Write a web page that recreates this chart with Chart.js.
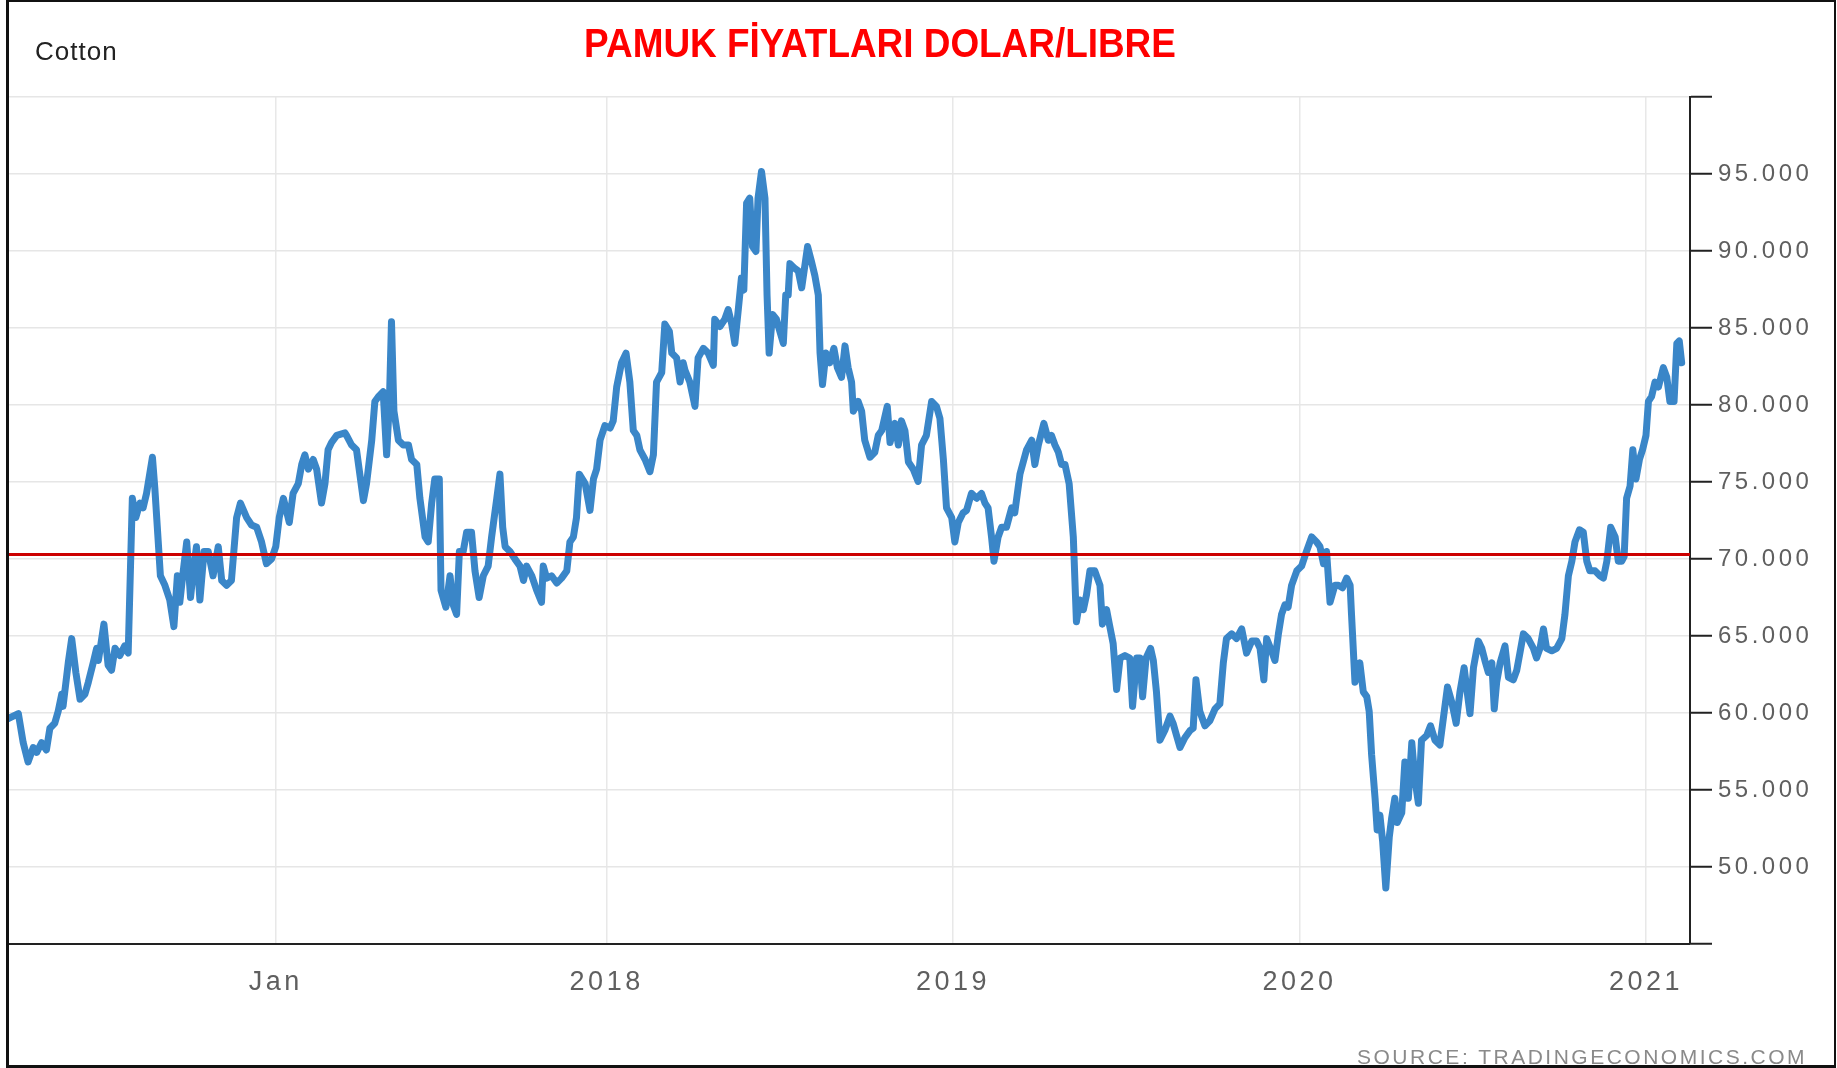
<!DOCTYPE html>
<html>
<head>
<meta charset="utf-8">
<script src="https://cdn.jsdelivr.net/npm/chart.js@4.4.1/dist/chart.umd.min.js"></script>
<style>
  html, body { margin: 0; padding: 0; background: #fff; }
  #wrap { position: relative; width: 1837px; height: 1068px; overflow: hidden; background: #fff; }
  #chart { position: absolute; left: 0; top: 0; }
  .frame { position: absolute; left: 6px; top: 0; width: 1830px; height: 1068px; box-sizing: border-box;
           border: 3px solid #111; border-top-width: 2px; border-right-width: 2px; pointer-events: none; }
  .name { position: absolute; left: 35px; top: 38px; font: 26px "Liberation Sans", Arial, sans-serif;
          color: #222; letter-spacing: 1px; line-height: 26px; white-space: nowrap; }
  .title { position: absolute; left: 880px; top: 23px; font: bold 41px "Liberation Sans", Arial, sans-serif;
           color: #ff0000; line-height: 41px; white-space: nowrap; transform: translateX(-50%) scaleX(0.9); }
  .source { position: absolute; right: 30px; top: 1046px; font: 21px "Liberation Sans", Arial, sans-serif;
            color: #8a8a8a; letter-spacing: 2.5px; line-height: 21px; white-space: nowrap; }
</style>
</head>
<body>
<div id="wrap">
  <canvas id="chart" width="1837" height="1068"></canvas>
  <div class="name">Cotton</div>
  <div class="title">PAMUK FİYATLARI DOLAR/LIBRE</div>
  <div class="source">SOURCE: TRADINGECONOMICS.COM</div>
  <div class="frame"></div>
</div>
<script>
// Cotton futures, US cents per pound, sampled along the series (decimal years).
const years = [
  2016.273, 2016.302, 2016.316, 2016.330, 2016.345, 2016.355, 2016.369, 2016.383, 2016.393, 2016.407,
  2016.417, 2016.427, 2016.431, 2016.446, 2016.456, 2016.468, 2016.480, 2016.494, 2016.504, 2016.518,
  2016.528, 2016.533, 2016.549, 2016.561, 2016.571, 2016.581, 2016.595, 2016.609, 2016.619, 2016.631,
  2016.641, 2016.653, 2016.662, 2016.672, 2016.689, 2016.696, 2016.712, 2016.725, 2016.739, 2016.751,
  2016.761, 2016.768, 2016.778, 2016.788, 2016.799, 2016.807, 2016.816, 2016.826, 2016.838, 2016.850,
  2016.864, 2016.879, 2016.889, 2016.903, 2016.917, 2016.932, 2016.943, 2016.961, 2016.975, 2016.990,
  2017.004, 2017.018, 2017.033, 2017.045, 2017.055, 2017.067, 2017.084, 2017.095, 2017.110, 2017.120,
  2017.129, 2017.139, 2017.153, 2017.163, 2017.177, 2017.187, 2017.196, 2017.206, 2017.221, 2017.245,
  2017.249, 2017.264, 2017.278, 2017.298, 2017.307, 2017.322, 2017.331, 2017.341, 2017.355, 2017.365,
  2017.373, 2017.379, 2017.386, 2017.399, 2017.413, 2017.428, 2017.437, 2017.452, 2017.461, 2017.476,
  2017.485, 2017.495, 2017.504, 2017.517, 2017.522, 2017.536, 2017.548, 2017.557, 2017.567, 2017.575,
  2017.586, 2017.596, 2017.610, 2017.620, 2017.632, 2017.644, 2017.658, 2017.668, 2017.683, 2017.692,
  2017.700, 2017.707, 2017.721, 2017.735, 2017.750, 2017.760, 2017.769, 2017.784, 2017.798, 2017.812,
  2017.817, 2017.827, 2017.841, 2017.856, 2017.870, 2017.885, 2017.894, 2017.904, 2017.913, 2017.921,
  2017.938, 2017.952, 2017.962, 2017.971, 2017.981, 2017.995, 2018.010, 2018.019, 2018.029, 2018.043,
  2018.056, 2018.067, 2018.077, 2018.087, 2018.096, 2018.111, 2018.125, 2018.135, 2018.144, 2018.159,
  2018.168, 2018.181, 2018.188, 2018.202, 2018.212, 2018.221, 2018.226, 2018.240, 2018.255, 2018.264,
  2018.279, 2018.293, 2018.308, 2018.312, 2018.327, 2018.341, 2018.351, 2018.361, 2018.370, 2018.380,
  2018.389, 2018.396, 2018.404, 2018.413, 2018.421, 2018.431, 2018.437, 2018.447, 2018.457, 2018.463,
  2018.469, 2018.479, 2018.490, 2018.498, 2018.510, 2018.517, 2018.524, 2018.529, 2018.543, 2018.553,
  2018.563, 2018.572, 2018.580, 2018.591, 2018.601, 2018.611, 2018.616, 2018.623, 2018.633, 2018.644,
  2018.656, 2018.666, 2018.678, 2018.688, 2018.697, 2018.707, 2018.712, 2018.726, 2018.736, 2018.745,
  2018.760, 2018.774, 2018.784, 2018.794, 2018.810, 2018.818, 2018.832, 2018.842, 2018.851, 2018.861,
  2018.871, 2018.885, 2018.899, 2018.909, 2018.923, 2018.938, 2018.952, 2018.962, 2018.972, 2018.981,
  2018.996, 2019.005, 2019.015, 2019.029, 2019.039, 2019.053, 2019.068, 2019.082, 2019.092, 2019.101,
  2019.111, 2019.118, 2019.130, 2019.140, 2019.154, 2019.169, 2019.178, 2019.193, 2019.212, 2019.227,
  2019.236, 2019.246, 2019.262, 2019.275, 2019.284, 2019.294, 2019.304, 2019.313, 2019.323, 2019.335,
  2019.347, 2019.356, 2019.366, 2019.376, 2019.385, 2019.395, 2019.409, 2019.424, 2019.431, 2019.443,
  2019.451, 2019.462, 2019.472, 2019.482, 2019.496, 2019.510, 2019.518, 2019.530, 2019.539, 2019.547,
  2019.557, 2019.570, 2019.578, 2019.587, 2019.597, 2019.611, 2019.626, 2019.635, 2019.645, 2019.655,
  2019.669, 2019.684, 2019.693, 2019.701, 2019.712, 2019.727, 2019.741, 2019.756, 2019.770, 2019.780,
  2019.789, 2019.804, 2019.818, 2019.833, 2019.847, 2019.862, 2019.876, 2019.886, 2019.897, 2019.905,
  2019.919, 2019.929, 2019.939, 2019.948, 2019.958, 2019.967, 2019.977, 2019.992, 2020.006, 2020.020,
  2020.035, 2020.049, 2020.059, 2020.069, 2020.078, 2020.088, 2020.102, 2020.112, 2020.124, 2020.136,
  2020.146, 2020.150, 2020.160, 2020.174, 2020.184, 2020.194, 2020.201, 2020.208, 2020.218, 2020.224,
  2020.232, 2020.240, 2020.249, 2020.259, 2020.266, 2020.275, 2020.282, 2020.295, 2020.304, 2020.314,
  2020.324, 2020.333, 2020.343, 2020.352, 2020.367, 2020.378, 2020.391, 2020.405, 2020.415, 2020.427,
  2020.439, 2020.452, 2020.463, 2020.475, 2020.482, 2020.492, 2020.502, 2020.516, 2020.526, 2020.535,
  2020.545, 2020.555, 2020.562, 2020.569, 2020.579, 2020.593, 2020.603, 2020.617, 2020.627, 2020.636,
  2020.646, 2020.660, 2020.675, 2020.684, 2020.694, 2020.704, 2020.713, 2020.728, 2020.742, 2020.757,
  2020.766, 2020.776, 2020.786, 2020.795, 2020.808, 2020.819, 2020.829, 2020.838, 2020.853, 2020.867,
  2020.877, 2020.887, 2020.898, 2020.911, 2020.920, 2020.930, 2020.937, 2020.944, 2020.954, 2020.962,
  2020.971, 2020.981, 2020.990, 2021.000, 2021.007, 2021.016, 2021.026, 2021.036, 2021.050, 2021.060,
  2021.069, 2021.081, 2021.089, 2021.096, 2021.103
];

const prices = [
  59.64, 59.96, 58.07, 56.82, 57.76, 57.44, 58.07, 57.60, 59.01, 59.33,
  60.11, 61.21, 60.43, 63.26, 64.83, 62.63, 60.90, 61.21, 62.00, 63.26,
  64.20, 63.41, 65.77, 63.10, 62.78, 64.20, 63.73, 64.36, 63.89, 73.94,
  72.69, 73.63, 73.32, 74.26, 76.61, 74.57, 68.91, 68.29, 67.34, 65.61,
  68.91, 67.19, 69.23, 71.11, 67.50, 69.23, 70.80, 67.34, 70.49, 70.49,
  68.91, 70.80, 68.60, 68.29, 68.60, 72.69, 73.63, 72.69, 72.21, 72.06,
  71.11, 69.70, 70.01, 70.80, 72.69, 73.94, 72.37, 74.26, 74.89, 76.14,
  76.77, 75.83, 76.46, 75.83, 73.63, 74.89, 77.09, 77.56, 78.03, 78.19,
  78.03, 77.40, 77.09, 73.79, 74.89, 77.71, 80.23, 80.54, 80.86, 76.77,
  80.23, 85.41, 79.60, 77.71, 77.40, 77.40, 76.46, 76.14, 73.94, 71.43,
  71.11, 73.63, 75.20, 75.20, 67.97, 66.87, 68.91, 67.03, 66.40, 70.49,
  70.49, 71.74, 71.74, 69.23, 67.50, 68.91, 69.54, 71.43, 73.94, 75.51,
  72.06, 70.80, 70.49, 70.01, 69.54, 68.60, 69.54, 68.91, 67.97, 67.19,
  69.54, 68.76, 68.91, 68.44, 68.76, 69.23, 71.11, 71.43, 72.69, 75.51,
  74.89, 73.16, 75.20, 75.83, 77.71, 78.66, 78.50, 78.97, 81.17, 82.74,
  83.37, 81.49, 78.34, 78.03, 77.09, 76.46, 75.67, 76.77, 81.49, 82.11,
  85.26, 84.79, 83.37, 83.06, 81.49, 82.74, 82.27, 81.49, 79.91, 83.06,
  83.68, 83.37, 82.58, 85.57, 85.10, 85.57, 86.20, 85.26, 84.00, 86.20,
  88.24, 87.46, 93.11, 93.43, 90.29, 89.97, 93.43, 95.16, 93.43, 87.14,
  83.37, 85.88, 85.57, 84.94, 84.00, 87.14, 87.14, 89.18, 88.87, 88.71,
  87.61, 89.03, 90.29, 89.34, 88.40, 87.14, 83.37, 81.33, 83.37, 82.74,
  83.68, 82.43, 81.80, 83.84, 82.43, 81.49, 79.60, 80.23, 79.60, 77.71,
  76.61, 76.93, 78.03, 78.34, 79.91, 77.56, 78.81, 77.40, 78.97, 78.34,
  76.30, 75.83, 75.04, 77.40, 78.03, 80.23, 79.91, 79.13, 76.46, 73.32,
  72.69, 71.11, 72.37, 73.00, 73.16, 74.26, 73.94, 74.26, 73.63, 73.32,
  71.43, 69.86, 71.43, 72.06, 72.06, 73.32, 73.00, 75.51, 77.09, 77.71,
  76.14, 77.40, 78.81, 77.71, 78.03, 77.40, 76.93, 76.14, 76.14, 74.89,
  71.43, 65.93, 67.34, 66.71, 67.66, 69.23, 69.23, 68.29, 65.77, 66.71,
  65.77, 64.51, 61.53, 63.57, 63.73, 63.57, 60.43, 63.57, 63.57, 61.06,
  63.57, 64.20, 63.41, 61.37, 58.23, 58.86, 59.80, 59.33, 58.54, 57.76,
  58.39, 58.86, 59.01, 62.16, 60.11, 59.17, 59.49, 60.27, 60.59, 63.26,
  64.83, 65.14, 64.83, 65.46, 63.89, 64.67, 64.67, 64.20, 62.16, 64.83,
  64.04, 63.41, 65.14, 66.40, 67.03, 66.87, 68.29, 69.23, 69.54, 70.49,
  71.43, 71.11, 70.80, 69.70, 70.49, 67.19, 68.29, 68.29, 68.13, 68.76,
  68.29, 66.40, 62.00, 63.26, 61.37, 61.06, 60.11, 57.29, 54.46, 52.41,
  53.36, 51.63, 48.64, 51.95, 53.20, 54.46, 52.89, 53.52, 56.82, 54.46,
  58.07, 55.72, 54.14, 58.23, 58.54, 59.17, 58.23, 57.92, 59.64, 61.69,
  60.74, 59.33, 61.37, 62.94, 61.69, 59.96, 62.94, 64.67, 64.20, 63.41,
  62.63, 63.26, 60.27, 62.00, 63.26, 64.36, 62.31, 62.16, 62.78, 63.89,
  65.14, 64.83, 64.20, 63.57, 64.20, 65.46, 64.20, 64.04, 64.20, 64.83,
  66.40, 68.91, 69.86, 71.11, 71.90, 71.74, 69.86, 69.23, 69.23, 68.91,
  68.76, 69.86, 72.06, 71.43, 69.86, 69.86, 70.17, 73.94, 74.73, 77.09,
  75.20, 76.46, 77.09, 78.03, 80.23, 80.54, 81.49, 81.17, 82.43, 81.80,
  80.23, 80.23, 84.00, 84.16, 82.74
];

// Horizontal reference level drawn across the whole period.
const referenceLevel = 70.3;

// Visible time window and axis labels.
const xRange = [2016.275, 2021.127];
const xTickValues = [2017.045, 2018, 2019, 2020, 2021];
const xTickLabels = ['Jan', '2018', '2019', '2020', '2021'];
const yRange = [45, 100];
const yStep = 5;

const series = years.map((x, i) => ({ x: x, y: prices[i] }));
const levelLine = [{ x: xRange[0], y: referenceLevel }, { x: xRange[1], y: referenceLevel }];

// Canvas letter spacing for the axis labels.
const spacedText = {
  id: 'spacedText',
  beforeDraw(chart) { chart.ctx.letterSpacing = '3.5px'; },
  afterDraw(chart) { chart.ctx.letterSpacing = '0px'; }
};

const labelFont = { family: '"Liberation Sans", Arial, sans-serif' };

new Chart(document.getElementById('chart'), {
  type: 'line',
  data: {
    datasets: [
      {
        label: 'Level',
        data: levelLine,
        borderColor: '#cc0000',
        borderWidth: 3,
        pointRadius: 0,
        order: 0
      },
      {
        label: 'Cotton',
        data: series,
        borderColor: '#3a86c8',
        borderWidth: 7,
        pointRadius: 0,
        tension: 0,
        borderJoinStyle: 'round',
        borderCapStyle: 'round',
        order: 1
      }
    ]
  },
  options: {
    responsive: false,
    animation: false,
    devicePixelRatio: 1,
    layout: { padding: { left: 9, top: 97, right: 0, bottom: 0 } },
    plugins: { legend: { display: false }, tooltip: { enabled: false } },
    scales: {
      x: {
        type: 'linear',
        min: xRange[0],
        max: xRange[1],
        afterBuildTicks(scale) { scale.ticks = xTickValues.map(v => ({ value: v })); },
        afterFit(scale) { scale.height = 124; },
        ticks: {
          autoSkip: false,
          maxRotation: 0,
          padding: 22,
          color: '#5f5f5f',
          font: Object.assign({ size: 27 }, labelFont),
          callback: (v, i) => xTickLabels[i]
        },
        grid: { color: '#e8e8e8', lineWidth: 1.5, drawTicks: false },
        border: { color: '#222', width: 2 }
      },
      y: {
        position: 'right',
        min: yRange[0],
        max: yRange[1],
        afterFit(scale) { scale.width = 147; },
        ticks: {
          stepSize: yStep,
          padding: 6,
          color: '#5f5f5f',
          font: Object.assign({ size: 24 }, labelFont),
          callback: v => (v === yRange[0] || v === yRange[1]) ? '' : v.toFixed(3)
        },
        grid: { color: '#e6e6e6', lineWidth: 1.5, tickColor: '#222', tickWidth: 2, tickLength: 22 },
        border: { color: '#222', width: 2 }
      }
    }
  },
  plugins: [spacedText]
});
</script>
</body>
</html>
